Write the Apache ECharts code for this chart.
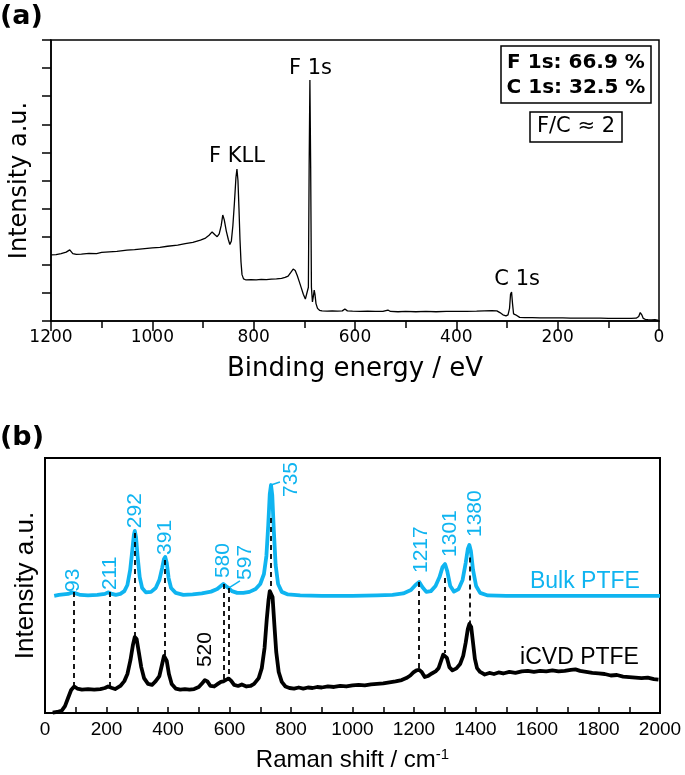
<!DOCTYPE html>
<html><head><meta charset="utf-8">
<script src="https://cdn.jsdelivr.net/npm/echarts@6/dist/echarts.min.js"></script>
<style>html,body{margin:0;padding:0;background:#fff}#c{width:685px;height:775px}</style>
</head><body><div id="c"></div><script>
// ---------- DATA ----------
const xpsEnergy = [
 1200,1190,1180,1170,1163,1157,1150,1140,1125,1110,
 1100,1085,1070,1050,1035,1020,1000,985,970,950,
 935,920,905,895,888,882,877,872,868,864,
 861,858,854,850,847,844,841,838,835,833,
 831,829,827,825,823,820,815,805,795,785,
 775,765,755,745,738,732,727,722,718,714,
 710,706,702,698,695,692,690.5,689,687.5,686,
 684,682,680.5,679,677,674,670,665,655,645,
 635,625,620,615,605,590,575,560,545,535,
 530,515,500,480,460,440,420,400,380,360,
 345,330,320,314,308,302,298,295,293,291,
 289,287,285,283,280,275,265,250,235,220,
 205,190,175,160,145,130,115,100,85,70,
 55,45,40,37,34,31,27,22,15,8,
 3,0];
const xpsIntensity = [
 2.35,2.36,2.40,2.45,2.53,2.40,2.37,2.38,2.41,2.40,
 2.44,2.46,2.48,2.52,2.54,2.57,2.60,2.62,2.66,2.70,
 2.75,2.80,2.88,2.95,3.05,3.17,3.08,3.00,3.10,3.40,
 3.77,3.60,3.20,2.90,2.72,2.85,3.40,4.20,5.10,5.41,
 5.00,4.00,2.90,2.10,1.65,1.50,1.46,1.47,1.46,1.48,
 1.47,1.49,1.50,1.52,1.55,1.60,1.72,1.85,1.80,1.62,
 1.40,1.18,0.95,0.78,0.75,1.20,5.50,8.58,5.50,1.20,
 0.68,0.90,1.10,0.95,0.62,0.45,0.38,0.36,0.35,0.36,
 0.35,0.36,0.43,0.36,0.35,0.34,0.35,0.34,0.34,0.39,
 0.34,0.33,0.34,0.33,0.34,0.33,0.34,0.34,0.34,0.35,
 0.36,0.37,0.36,0.30,0.22,0.18,0.22,0.45,0.95,1.03,
 0.60,0.25,0.20,0.22,0.16,0.13,0.12,0.12,0.11,0.11,
 0.11,0.11,0.10,0.10,0.10,0.10,0.10,0.09,0.09,0.09,
 0.09,0.10,0.16,0.30,0.22,0.09,0.06,0.05,0.04,0.05,
 0.03,0.00];
const xpsTicks = [0,200,400,600,800,1000,1200];
const xpsPeakNames = ['F 1s','F KLL','C 1s'];
const xpsPeakEnergy = [688, 833, 280];

const bulkShift = [
 30,45,60,75,88,93,100,115,140,170,
 195,205,211,218,230,245,258,268,277,284,
 289,292,296,301,308,316,328,345,360,372,
 381,387,391,396,402,410,425,450,480,510,
 540,560,572,580,588,597,608,625,645,665,
 685,700,712,720,726,731,735,739,744,750,
 758,770,790,830,900,1000,1080,1130,1165,1190,
 1205,1217,1227,1240,1255,1270,1283,1293,1301,1308,
 1318,1330,1345,1358,1368,1375,1380,1385,1392,1402,
 1415,1440,1500,1600,1700,1800,1900,2000];
const bulkIntensity = [
 4.59,4.63,4.65,4.67,4.73,4.75,4.69,4.63,4.61,4.63,
 4.67,4.73,4.75,4.67,4.63,4.67,4.78,5.02,5.61,6.39,
 6.98,7.14,6.90,6.16,5.33,4.90,4.73,4.75,4.90,5.22,
 5.69,6.04,6.12,5.88,5.29,4.90,4.71,4.63,4.65,4.69,
 4.76,4.86,4.98,5.06,4.98,4.90,4.78,4.71,4.71,4.75,
 4.86,5.06,5.45,6.16,7.37,8.59,8.94,8.55,7.18,5.80,
 5.06,4.75,4.65,4.61,4.59,4.59,4.61,4.63,4.69,4.82,
 5.02,5.14,4.94,4.75,4.78,4.98,5.33,5.73,5.84,5.57,
 4.98,4.76,4.86,5.22,5.88,6.43,6.59,6.35,5.61,4.98,
 4.71,4.61,4.59,4.59,4.59,4.59,4.59,4.59];

const icvdShift = [
 25,40,55,65,75,85,95,105,120,140,
 160,180,195,205,211,218,228,245,258,268,
 278,286,292,298,305,313,322,335,348,360,
 372,381,387,391,396,403,412,425,440,455,
 470,485,500,512,520,528,538,550,562,572,
 580,590,597,605,615,628,640,655,668,680,
 695,705,714,721,727,731,735,740,746,752,
 760,770,782,795,810,825,840,855,870,885,
 900,920,940,960,980,1000,1020,1040,1060,1080,
 1100,1120,1140,1160,1175,1188,1198,1208,1217,1225,
 1235,1245,1258,1270,1280,1288,1295,1301,1307,1315,
 1325,1338,1350,1360,1368,1375,1380,1386,1392,1398,
 1405,1415,1430,1445,1460,1475,1490,1510,1530,1550,
 1570,1590,1610,1630,1650,1670,1690,1710,1725,1740,
 1760,1780,1800,1820,1840,1860,1880,1900,1920,1940,
 1960,1980,1995];
const icvdIntensity = [
 0.01,0.04,0.10,0.27,0.59,0.90,1.04,0.96,0.92,0.94,
 0.92,0.94,0.98,1.04,1.06,0.98,0.94,1.06,1.25,1.53,
 2.08,2.67,2.98,2.90,2.39,1.80,1.37,1.14,1.10,1.25,
 1.45,1.92,2.24,2.27,2.04,1.53,1.14,0.96,0.92,0.94,
 0.92,0.94,1.02,1.18,1.29,1.24,1.06,1.04,1.14,1.22,
 1.24,1.31,1.35,1.27,1.10,1.06,1.12,1.04,1.06,1.14,
 1.37,1.76,2.55,3.65,4.43,4.78,4.82,4.55,3.45,2.39,
 1.61,1.22,1.04,0.98,0.96,1.00,0.96,1.00,0.98,1.02,
 1.00,1.04,1.02,1.06,1.04,1.08,1.10,1.08,1.12,1.14,
 1.16,1.20,1.24,1.29,1.37,1.47,1.59,1.67,1.69,1.61,
 1.41,1.45,1.55,1.63,1.76,2.04,2.29,2.35,2.16,1.80,
 1.67,1.75,1.92,2.24,2.75,3.29,3.49,3.37,2.75,2.12,
 1.76,1.61,1.51,1.57,1.53,1.59,1.55,1.61,1.57,1.63,
 1.65,1.61,1.65,1.63,1.67,1.63,1.65,1.69,1.71,1.65,
 1.61,1.57,1.55,1.53,1.47,1.49,1.43,1.41,1.39,1.37,
 1.39,1.33,1.31];

const ramanPeaks   = [93,211,292,391,580,597,735,1217,1301,1380];
const bulkPeakTop  = [4.75,4.75,7.06,6.00,5.06,4.90,7.65,5.14,5.29,6.10];
const icvdPeakTop  = [1.04,1.06,2.98,2.27,1.24,1.35,4.82,1.69,2.35,3.49];
const ramanTicks = [0,200,400,600,800,1000,1200,1400,1600,1800,2000];

// ---------- LAYOUT (annotation anchors in data units) ----------
const peakLabelX = [93,211,292,391,580,650,800,1224,1317,1400];
const peakLabelY = [4.75,4.82,7.25,6.20,5.29,5.22,8.47,5.49,6.12,6.90];
const CYAN = '#0fb4f0';
const SANS_A = '"DejaVu Sans", sans-serif';
const SANS_B = '"Liberation Sans", Arial, sans-serif';
const zip = (a,b) => a.map((x,i)=>[x,b[i]]);
const plain = v => String(v);
const HIDDEN = {color:'transparent', opacity:1};

const chart = echarts.init(document.getElementById('c'), null, {renderer:'canvas'});
const option = {
  animation: false,
  backgroundColor: '#fff',
  grid: [
    {left:47, top:40, width:612, height:281, show:true, borderColor:'#000', borderWidth:1.5, backgroundColor:'transparent'},
    {left:45, top:458, width:615, height:255, show:true, borderColor:'#000', borderWidth:2, backgroundColor:'transparent'}
  ],
  xAxis: [
    {gridIndex:0, type:'value', min:0, max:1200, interval:200, inverse:true,
     axisLine:{onZero:false, lineStyle:{color:'#000', width:1.5}},
     axisTick:{length:10, lineStyle:{color:'#000', width:1.5}},
     minorTick:{show:true, splitNumber:2, length:7, lineStyle:{color:'#000', width:1.5}},
     splitLine:{show:false},
     axisLabel:{fontFamily:SANS_A, fontSize:17, color:'#000', margin:8, formatter:plain},
     name:'Binding energy / eV', nameLocation:'middle', nameGap:35,
     nameTextStyle:{fontFamily:SANS_A, fontSize:26, color:'#000'}},
    {gridIndex:1, type:'value', min:0, max:2000, interval:200,
     axisLine:{onZero:false, lineStyle:{color:'#000', width:2}},
     axisTick:{inside:true, length:6, lineStyle:{color:'#000', width:1.5}},
     minorTick:{show:true, splitNumber:2, length:6, lineStyle:{color:'#000', width:1.5}},
     splitLine:{show:false},
     axisLabel:{fontFamily:SANS_B, fontSize:19, color:'#000', margin:7, formatter:plain},
     name:'Raman shift / cm{sup|-1}', nameLocation:'middle', nameGap:34,
     nameTextStyle:{fontFamily:SANS_B, fontSize:24, color:'#000',
       rich:{sup:{fontFamily:SANS_B, fontSize:15, color:'#000', verticalAlign:'top', padding:[0,0,12,0]}}}}
  ],
  yAxis: [
    {gridIndex:0, type:'value', min:0, max:10, interval:1,
     axisLine:{onZero:false, lineStyle:{color:'#000', width:1.5}},
     axisTick:{length:9, lineStyle:{color:'#000', width:1.5}},
     axisLabel:{show:false}, splitLine:{show:false},
     name:'Intensity a.u.', nameLocation:'middle', nameGap:19,
     nameTextStyle:{fontFamily:SANS_A, fontSize:24, color:'#000'}},
    {gridIndex:1, type:'value', min:0, max:10, interval:1,
     axisLine:{onZero:false, lineStyle:{color:'#000', width:2}},
     axisTick:{show:false}, axisLabel:{show:false}, splitLine:{show:false},
     name:'Intensity a.u.', nameLocation:'middle', nameGap:6,
     nameTextStyle:{fontFamily:SANS_B, fontSize:26, color:'#000'}}
  ],
  series: [
    {type:'line', xAxisIndex:0, yAxisIndex:0, data:zip(xpsEnergy, xpsIntensity),
     showSymbol:false, lineStyle:{color:'#000', width:1.3}, silent:true},
    {type:'scatter', xAxisIndex:0, yAxisIndex:0, symbolSize:1, itemStyle:HIDDEN, silent:true,
     data:[[xpsPeakEnergy[0],8.97,xpsPeakNames[0]],[xpsPeakEnergy[1],5.84,xpsPeakNames[1]],[xpsPeakEnergy[2],1.49,xpsPeakNames[2]]],
     label:{show:true, position:'inside', formatter:p=>p.value[2], fontFamily:SANS_A, fontSize:21, color:'#000',
       textBorderWidth:0, align:'center', verticalAlign:'middle'}},
    {type:'line', xAxisIndex:1, yAxisIndex:1, data:zip(bulkShift, bulkIntensity),
     showSymbol:false, lineStyle:{color:CYAN, width:3.8, join:'round'}, silent:true,
     markLine:{silent:true, symbol:'none', label:{show:false}, lineStyle:{color:CYAN, width:1.5, type:'solid'},
       data:[[{coord:[597,4.90]},{coord:[634,5.18]}],[{coord:[735,8.94]},{coord:[764,9.06]}]]}},
    {type:'line', xAxisIndex:1, yAxisIndex:1, data:zip(icvdShift, icvdIntensity),
     showSymbol:false, lineStyle:{color:'#000', width:3.8, join:'round'}, silent:true,
     markLine:{silent:true, symbol:'none', label:{show:false}, lineStyle:{color:'#000', width:1.8, type:[5,4]},
       data: ramanPeaks.map((p,i)=>[{coord:[p,bulkPeakTop[i]]},{coord:[p,icvdPeakTop[i]]}])}},
    {type:'scatter', xAxisIndex:1, yAxisIndex:1, symbolSize:1, itemStyle:HIDDEN, z:5, silent:true,
     data: ramanPeaks.map((p,i)=>[peakLabelX[i], peakLabelY[i], String(p)]),
     label:{show:true, position:'inside', rotate:90, align:'left', verticalAlign:'middle',
       formatter:p=>p.value[2], fontFamily:SANS_B, fontSize:21, color:CYAN, textBorderWidth:0}},
    {type:'scatter', xAxisIndex:1, yAxisIndex:1, symbolSize:1, itemStyle:HIDDEN, z:5, silent:true,
     data:[[520,1.80,'520']],
     label:{show:true, position:'inside', rotate:90, align:'left', verticalAlign:'middle',
       formatter:p=>p.value[2], fontFamily:SANS_B, fontSize:21, color:'#000', textBorderWidth:0}},
    {type:'scatter', xAxisIndex:1, yAxisIndex:1, symbolSize:1, itemStyle:HIDDEN, z:5, silent:true,
     data:[{value:[1577,5.14,'Bulk PTFE'], label:{color:CYAN}},{value:[1545,2.16,'iCVD PTFE'], label:{color:'#000'}}],
     label:{show:true, position:'inside', align:'left', verticalAlign:'middle', textBorderWidth:0,
       formatter:p=>p.value[2], fontFamily:SANS_B, fontSize:23}}
  ],
  graphic: [
    {type:'text', left:0, top:3, style:{text:'(a)', font:'bold 27px "DejaVu Sans"', fill:'#000'}},
    {type:'text', left:0, top:424, style:{text:'(b)', font:'bold 27px "DejaVu Sans"', fill:'#000'}},
    {type:'rect', shape:{x:501, y:46, width:150, height:57}, style:{fill:'#fff', stroke:'#000', lineWidth:1.5}, z:10},
    {type:'text', x:576, y:63, style:{text:'F 1s: 66.9 %', font:'bold 20px "DejaVu Sans"', fill:'#000', align:'center', verticalAlign:'middle'}, z:11},
    {type:'text', x:576, y:88, style:{text:'C 1s: 32.5 %', font:'bold 20px "DejaVu Sans"', fill:'#000', align:'center', verticalAlign:'middle'}, z:11},
    {type:'rect', shape:{x:530, y:112, width:92, height:30}, style:{fill:'#fff', stroke:'#000', lineWidth:1.5}, z:10},
    {type:'text', x:576, y:127, style:{text:'F/C ≈ 2', font:'21px "DejaVu Sans"', fill:'#000', align:'center', verticalAlign:'middle'}, z:11}
  ]
};
chart.setOption(option);
</script></body></html>
